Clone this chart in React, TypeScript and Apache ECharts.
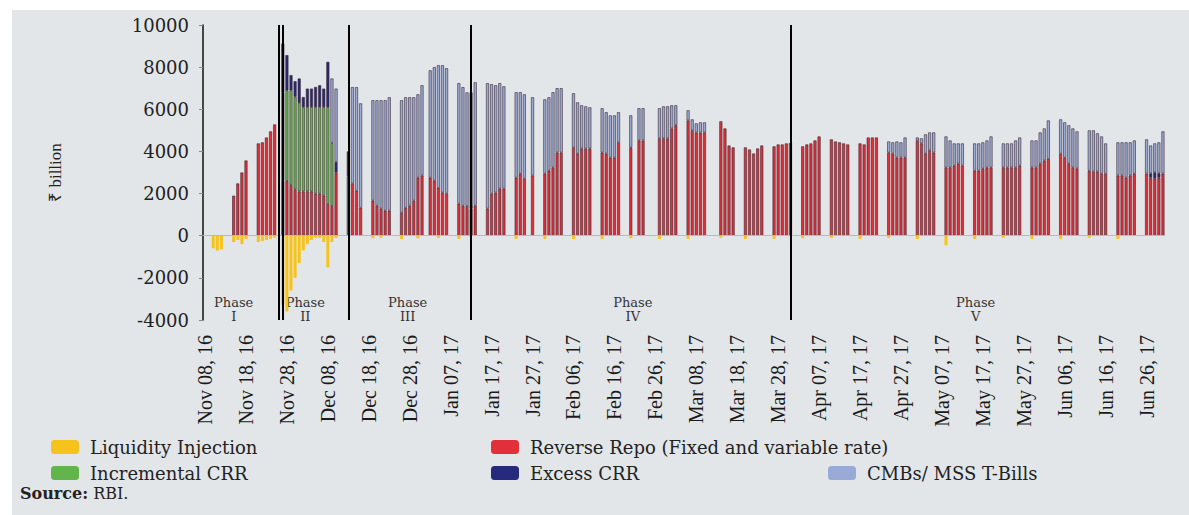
import React, { useEffect, useRef } from "react";
import * as echarts from "echarts";

// ---- Categories: every calendar day from Nov 08, 2016 to Jun 30, 2017 ----
const MONTHS = ["Jan", "Feb", "Mar", "Apr", "May", "Jun", "Jul", "Aug", "Sep", "Oct", "Nov", "Dec"];
const START = { y: 2016, m: 10, d: 8 };
const N_DAYS = 235;
function buildDates(): string[] {
  const out: string[] = [];
  for (let i = 0; i < N_DAYS; i++) {
    const dt = new Date(START.y, START.m, START.d + i);
    const dd = String(dt.getDate()).padStart(2, "0");
    const yy = String(dt.getFullYear()).slice(2);
    out.push(`${MONTHS[dt.getMonth()]} ${dd}, ${yy}`);
  }
  return out;
}
const categories = buildDates();

// ---- Series values as [day offset from Nov 08, 16, ₹ billion] ----
const liquidityInjection: [number, number][] = [
  [2, -600], [3, -700], [4, -650], [7, -300], [8, -200], [9, -400], [10, -150],
  [13, -300], [14, -250], [15, -200], [16, -150], [17, -100],
  [19, -3300], [20, -3600], [21, -2600], [22, -2000], [23, -1300], [24, -700], [25, -400],
  [26, -200], [27, -100], [28, -100], [29, -300], [30, -1500], [31, -300], [32, -100],
  [41, -120], [43, -100], [48, -150], [52, -120], [57, -100], [62, -150], [76, -150],
  [83, -150], [90, -150], [97, -150], [104, -120], [111, -150], [118, -150], [126, -100],
  [132, -150], [139, -150], [146, -120], [153, -100], [160, -150], [167, -100], [174, -150],
  [181, -450], [188, -150], [195, -100], [202, -150], [209, -150], [216, -100], [223, -150],
];

const reverseRepo: [number, number][] = [
  [7, 1900], [8, 2480], [9, 3000], [10, 3570],
  [13, 4380], [14, 4430], [15, 4660], [16, 4950], [17, 5280],
  [19, 2600], [20, 2600], [21, 2400], [22, 2200], [23, 2100], [24, 2100], [25, 2100],
  [26, 2100], [27, 2000], [28, 2000], [29, 1900], [30, 1500], [31, 1400], [32, 3000], [35, 2800],
  [36, 2480], [37, 2140], [38, 1330],
  [41, 1670], [42, 1430], [43, 1290], [44, 1190], [45, 1190],
  [48, 1100], [49, 1330], [50, 1430], [51, 1670], [52, 2760], [53, 2860],
  [55, 2760], [56, 2620], [57, 2280], [58, 2050], [59, 2000],
  [62, 1520], [63, 1430], [64, 1400], [65, 1300], [66, 1430],
  [69, 1290], [70, 2000], [71, 2050], [72, 2240], [73, 2240],
  [76, 2760], [77, 2950], [78, 2710], [80, 2860],
  [83, 2950], [84, 3090], [85, 3240], [86, 3950], [87, 3950],
  [90, 4190], [91, 3900], [92, 4140], [93, 4140], [94, 4140],
  [97, 3950], [98, 3900], [99, 3710], [100, 3710], [101, 4430],
  [104, 4190], [106, 4520], [107, 4520],
  [111, 4620], [112, 4620], [113, 4620], [114, 5090], [115, 5240],
  [118, 5470], [119, 5000], [120, 4900], [121, 4900], [122, 4900],
  [126, 5430], [127, 5090], [128, 4280], [129, 4190],
  [132, 4190], [133, 4090], [134, 3900], [135, 4140], [136, 4280],
  [139, 4240], [140, 4330], [141, 4330], [142, 4380], [143, 4400],
  [146, 4240], [147, 4330], [148, 4380], [149, 4520], [150, 4710],
  [153, 4570], [154, 4470], [155, 4430], [156, 4380], [157, 4330],
  [160, 4380], [161, 4330], [162, 4660], [163, 4660], [164, 4660],
  [167, 3950], [168, 3900], [169, 3710], [170, 3710], [171, 3710],
  [174, 4520], [175, 4380], [176, 3900], [177, 4050], [178, 3950],
  [181, 3240], [182, 3240], [183, 3330], [184, 3430], [185, 3330],
  [188, 3090], [189, 3090], [190, 3190], [191, 3240], [192, 3240],
  [195, 3240], [196, 3240], [197, 3240], [198, 3240], [199, 3330],
  [202, 3240], [203, 3240], [204, 3430], [205, 3570], [206, 3660],
  [209, 3900], [210, 3710], [211, 3430], [212, 3240], [213, 3190],
  [216, 3090], [217, 3050], [218, 3050], [219, 2950], [220, 2950],
  [223, 2860], [224, 2860], [225, 2760], [226, 2860], [227, 2950],
  [230, 2950], [231, 2760], [232, 2710], [233, 2760], [234, 2950],
];

const incrementalCRR: [number, number][] = [
  [19, 4200], [20, 4300], [21, 4500], [22, 4400], [23, 4200], [24, 4000], [25, 4000],
  [26, 4000], [27, 4100], [28, 4100], [29, 4200], [30, 4600], [31, 3000],
];

const excessCRR: [number, number][] = [
  [19, 2320], [20, 1670], [21, 720], [22, 730], [23, 1160], [24, 480], [25, 880],
  [26, 880], [27, 960], [28, 1040], [29, 880], [30, 2150], [32, 500], [35, 1200],
  [65, 200], [231, 200], [232, 300], [233, 200],
];

const cmbsMss: [number, number][] = [
  [31, 3060], [32, 3480],
  [36, 4570], [37, 4910], [38, 4950],
  [41, 4760], [42, 5000], [43, 5140], [44, 5240], [45, 5380],
  [48, 5330], [49, 5240], [50, 5140], [51, 4900], [52, 3950], [53, 4280],
  [55, 5090], [56, 5380], [57, 5810], [58, 6040], [59, 5950],
  [62, 5720], [63, 5620], [64, 5400], [65, 5300], [66, 5850],
  [69, 5950], [70, 5190], [71, 5090], [72, 5000], [73, 4850],
  [76, 4050], [77, 3860], [78, 4000], [80, 3710],
  [83, 3520], [84, 3480], [85, 3570], [86, 3050], [87, 3050],
  [90, 2570], [91, 2430], [92, 2050], [93, 2000], [94, 1950],
  [97, 2100], [98, 1960], [99, 2000], [100, 2000], [101, 1430],
  [104, 1520], [106, 1530], [107, 1530],
  [111, 1430], [112, 1520], [113, 1520], [114, 1100], [115, 950],
  [118, 480], [119, 520], [120, 430], [121, 480], [122, 480],
  [167, 520], [168, 530], [169, 760], [170, 720], [171, 950],
  [174, 140], [175, 240], [176, 910], [177, 850], [178, 950],
  [181, 1470], [182, 1280], [183, 1050], [184, 950], [185, 1050],
  [188, 1290], [189, 1290], [190, 1240], [191, 1280], [192, 1470],
  [195, 1140], [196, 1140], [197, 1140], [198, 1280], [199, 1330],
  [202, 1280], [203, 1280], [204, 1470], [205, 1520], [206, 1810],
  [209, 1620], [210, 1670], [211, 1810], [212, 1850], [213, 1760],
  [216, 1910], [217, 1950], [218, 1810], [219, 1760], [220, 1430],
  [223, 1570], [224, 1570], [225, 1670], [226, 1570], [227, 1570],
  [230, 1620], [231, 1320], [232, 1370], [233, 1470], [234, 2000],
];

// ---- Phases (day offsets of boundaries) and labels ----
const phaseLineDays = [18, 19, 35, 65, 143];
const phaseNames = ["Phase\nI", "Phase\nII", "Phase\nIII", "Phase\nIV", "Phase\nV"];
const phaseSpans: [number, number][] = [[0, 18], [19, 35], [35, 65], [65, 143], [143, 234]];

const yTicks = { min: -4000, max: 10000, interval: 2000 };

function toDaily(pairs: [number, number][]): (number | null)[] {
  const arr: (number | null)[] = new Array(N_DAYS).fill(null);
  pairs.forEach(([d, v]) => { arr[d] = v; });
  return arr;
}

const SERIF = "DejaVu Serif";

export default function App() {
  const ref = useRef<HTMLDivElement>(null);
  useEffect(() => {
    if (!ref.current) return;
    const chart = echarts.init(ref.current, null, { renderer: "svg" });
    const barBorder = { borderColor: "#3a2630", borderWidth: 0.6 };
    const base = {
      type: "bar",
      stack: "total",
      barWidth: 3,
      emphasis: { disabled: true },
    };
    const legendCommon = {
      itemWidth: 28,
      itemHeight: 14,
      selectedMode: false,
      itemStyle: { borderWidth: 0 },
      textStyle: { fontFamily: SERIF, fontSize: 18, color: "#222", padding: [0, 0, 0, 6] },
    };
    chart.setOption({
      animation: false,
      backgroundColor: "#e3e6e8",
      textStyle: { fontFamily: SERIF },
      grid: { left: 203, right: 24, top: 25, bottom: 195, containLabel: false },
      legend: [
        { ...legendCommon, data: ["Liquidity Injection"], left: 46, top: 433 },
        { ...legendCommon, data: ["Reverse Repo (Fixed and variable rate)"], left: 486, top: 433 },
        { ...legendCommon, data: ["Incremental CRR"], left: 46, top: 459 },
        { ...legendCommon, data: ["Excess CRR"], left: 486, top: 459 },
        { ...legendCommon, data: ["CMBs/ MSS T-Bills"], left: 823, top: 459 },
      ],
      graphic: [
        { type: "rect", left: 0, top: 0, shape: { width: 1189, height: 10 }, style: { fill: "#ffffff" }, z: 100 },
        { type: "rect", left: 0, top: 0, shape: { width: 12, height: 515 }, style: { fill: "#ffffff" }, z: 100 },
        {
          type: "text",
          left: 20,
          top: 485,
          style: {
            text: "{b|Source:} RBI.",
            fontFamily: SERIF,
            fontSize: 16,
            fill: "#222",
            rich: { b: { fontFamily: SERIF, fontSize: 16, fontWeight: "bold", fill: "#222" } },
          },
        },
      ],
      xAxis: {
        type: "category",
        data: categories,
        boundaryGap: true,
        axisLine: { show: false },
        axisTick: { show: false },
        axisLabel: {
          interval: 9,
          rotate: 90,
          margin: 15,
          fontFamily: "Liberation Serif",
          fontSize: 20,
          color: "#1a1a1a",
        },
      },
      yAxis: {
        type: "value",
        min: yTicks.min,
        max: yTicks.max,
        interval: yTicks.interval,
        name: "₹ billion",
        nameLocation: "middle",
        nameGap: 139,
        nameTextStyle: { fontFamily: "Liberation Serif", fontSize: 17, color: "#222" },
        axisLine: { show: true, lineStyle: { color: "#111", width: 1.5 } },
        axisTick: { show: true, length: 4, lineStyle: { color: "#888" } },
        splitLine: { show: false },
        axisLabel: {
          fontFamily: SERIF,
          fontSize: 18,
          color: "#222",
          margin: 14,
          formatter: (v: number) => String(v),
        },
      },
      series: [
        {
          ...base,
          name: "Liquidity Injection",
          data: toDaily(liquidityInjection),
          itemStyle: { color: "#f6c21c" },
          markLine: {
            silent: true,
            symbol: ["none", "none"],
            label: { show: false },
            lineStyle: { color: "#b9b9b9", width: 1, type: "solid" },
            data: [{ yAxis: 0 }],
          },
          markArea: {
            silent: true,
            itemStyle: { color: "rgba(0,0,0,0)" },
            label: {
              show: true,
              position: "insideBottom",
              distance: 0,
              offset: [0, 3],
              fontFamily: SERIF,
              fontSize: 13,
              lineHeight: 14,
              color: "#333",
            },
            data: phaseSpans.map(([a, b], k) => [
              { name: phaseNames[k], xAxis: categories[a] },
              { xAxis: categories[b] },
            ]),
          },
        },
        {
          ...base,
          name: "Reverse Repo (Fixed and variable rate)",
          data: toDaily(reverseRepo),
          itemStyle: { color: "#e2303a", ...barBorder },
        },
        {
          ...base,
          name: "Incremental CRR",
          data: toDaily(incrementalCRR),
          itemStyle: { color: "#62b54a", ...barBorder },
        },
        {
          ...base,
          name: "Excess CRR",
          data: toDaily(excessCRR),
          itemStyle: { color: "#262a7c", ...barBorder },
        },
        {
          ...base,
          name: "CMBs/ MSS T-Bills",
          data: toDaily(cmbsMss),
          itemStyle: { color: "#9aaad6", ...barBorder },
          markLine: {
            silent: true,
            symbol: ["none", "none"],
            label: { show: false },
            lineStyle: { color: "#000", width: 2, type: "solid" },
            data: phaseLineDays.map((d) => ({ xAxis: categories[d] })),
          },
        },
      ],
    });
    return () => chart.dispose();
  }, []);
  return (
    <div
      ref={ref}
      style={{ position: "absolute", left: 0, top: 0, width: 1189, height: 515 }}
    />
  );
}
